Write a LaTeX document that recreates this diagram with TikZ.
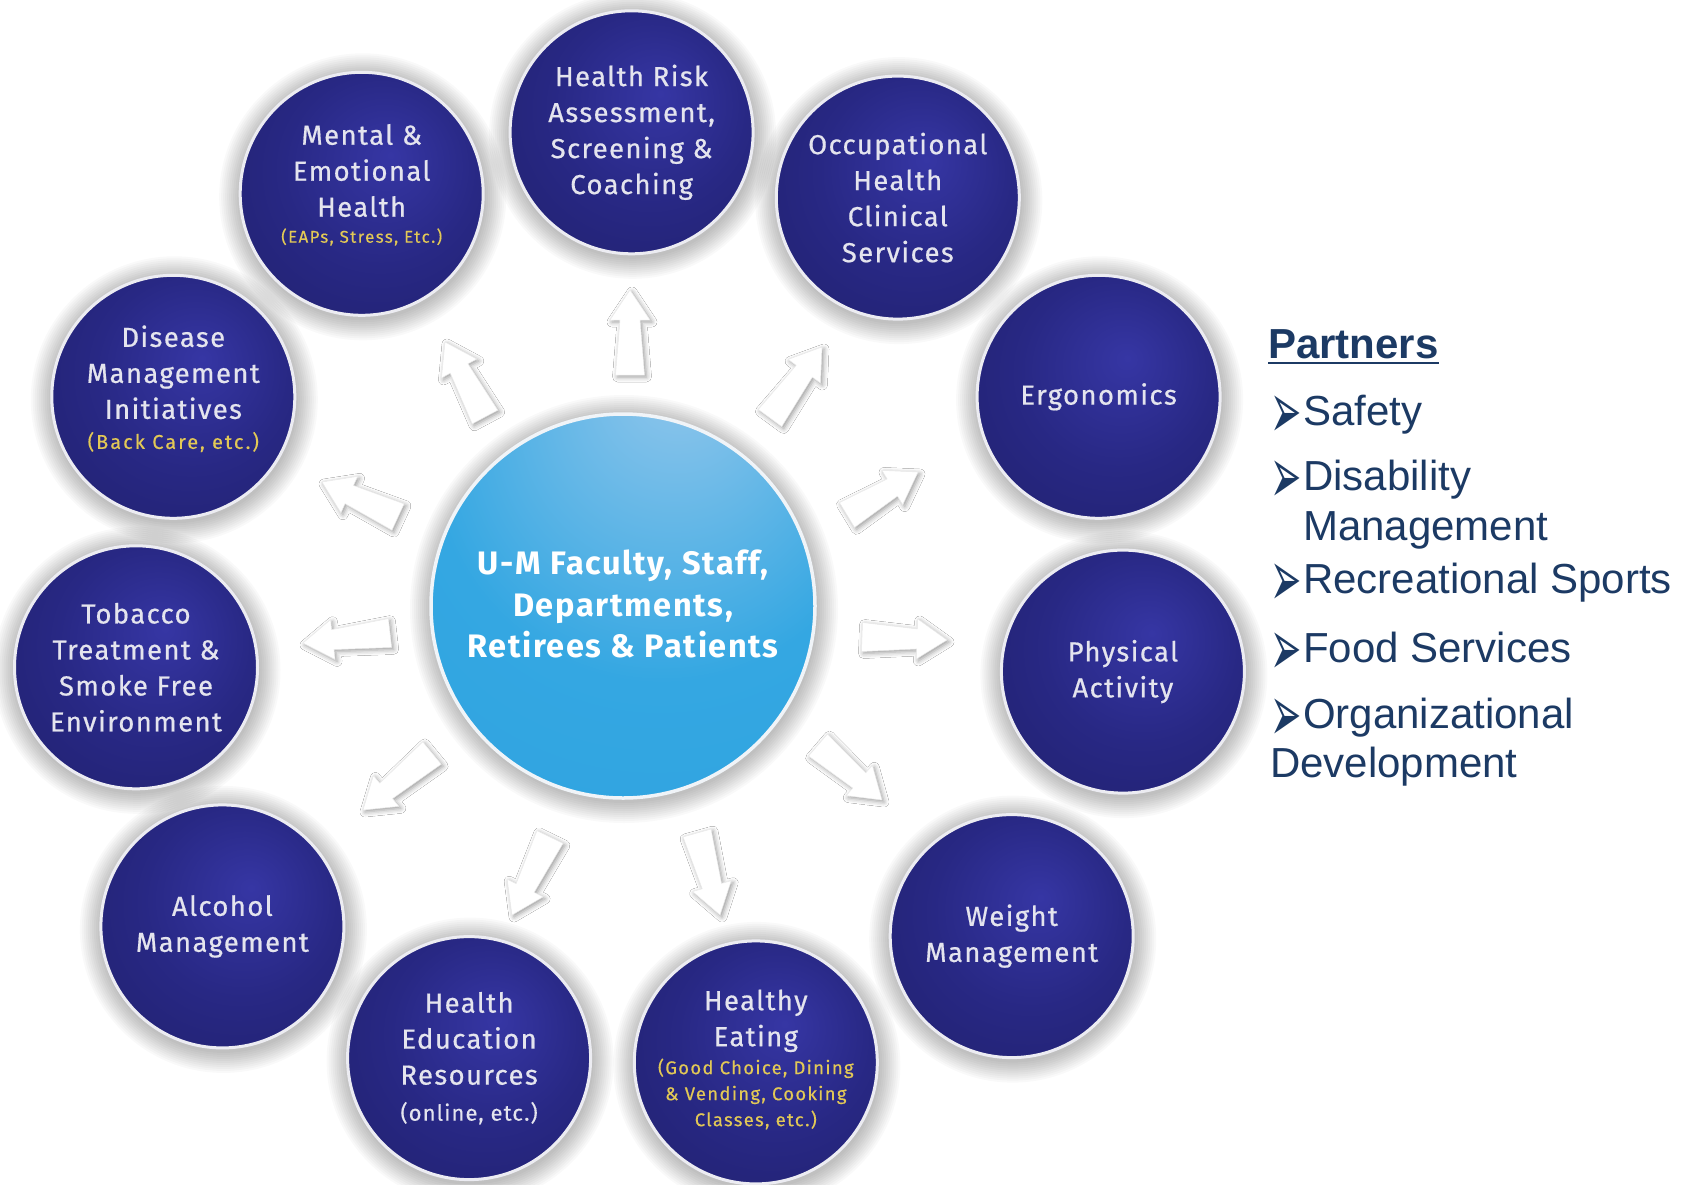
\documentclass[tikz,border=0pt]{standalone}
\usepackage{fontspec}
\setmainfont{Liberation Sans}
\newfontfamily\ballfont[LetterSpace=5,FakeBold=0.6]{Fira Sans}
\newfontfamily\notefont[FakeBold=0.4]{Fira Sans}
\newfontfamily\hubfont[LetterSpace=5]{Fira Sans}
\newfontfamily\glyphfont{DejaVu Sans}
\usetikzlibrary{calc,shadows.blur}

\definecolor{navyhi}{RGB}{54,54,164}
\definecolor{navymid}{RGB}{40,40,132}
\definecolor{navylo}{RGB}{26,26,92}
\definecolor{skyhi}{RGB}{150,200,236}
\definecolor{skymain}{RGB}{52,167,226}
\definecolor{skylo}{RGB}{40,158,220}
\definecolor{balltxt}{RGB}{228,228,238}
\definecolor{subgold}{RGB}{226,200,86}
\definecolor{partnerblue}{RGB}{28,58,100}
\definecolor{arrowedge}{RGB}{234,234,234}

\pgfdeclareradialshading{navyball}{\pgfpoint{6bp}{8bp}}{color(0bp)=(navyhi); color(20bp)=(navymid); color(56bp)=(navylo)}
\pgfdeclareradialshading{skyball}{\pgfpoint{8bp}{32bp}}{color(0bp)=(skyhi); color(30bp)=(skymain); color(80bp)=(skylo)}

\newcommand{\goldnote}[3]{{\color{subgold}\notefont\addfontfeature{LetterSpace=#2}\fontsize{#1}{#1}\selectfont #3}}
\newcommand{\pbullet}{\makebox[33pt][l]{\raisebox{-13pt}{\scalebox{1.1}[2.35]{\glyphfont\fontsize{34}{34}\selectfont ➢}}}}

% white block arrow with a tapered shaft, from tail #1 to tip #2
\newcommand{\blockarrow}[2]{%
  \path[arrowbody]
    ($(#1)!14.5pt!90:(#2)$) --
    ($(#2)!30pt!(#1)!10pt!90:(#2)$) --
    ($(#2)!30pt!(#1)!20pt!90:(#2)$) --
    (#2) --
    ($(#2)!30pt!(#1)!20pt!-90:(#2)$) --
    ($(#2)!30pt!(#1)!10pt!-90:(#2)$) --
    ($(#1)!14.5pt!-90:(#2)$) -- cycle;}

% soft grey glow around a disc of radius #2 centred on #1
\newcommand{\discglow}[2]{%
  \foreach \d in {2,4,...,22}{\fill[black, fill opacity=0.022] ($(#1)+(1,3)$) circle ({#2+\d});}}

\tikzset{
  ball/.style={circle, minimum size=243pt, inner sep=0pt, shade, shading=navyball,
    draw={rgb,255:red,236;green,236;blue,242}, line width=3pt},
  hub/.style={circle, minimum size=384pt, inner sep=0pt, shade, shading=skyball,
    draw={rgb,255:red,240;green,244;blue,248}, line width=3.5pt},
  balltext/.style={text=balltxt, align=center, inner sep=0pt,
    font=\ballfont\fontsize{27.5}{36}\selectfont},
  hubtext/.style={text=white, align=center, inner sep=0pt,
    font=\hubfont\bfseries\fontsize{32.5}{41.5}\selectfont},
  arrowbody/.style={fill=white, draw=arrowedge, line width=0.5pt, line join=round,
    blur shadow={shadow xshift=2pt, shadow yshift=-2pt, shadow blur radius=5pt, shadow opacity=40}},
  partner/.style={anchor=base west, inner sep=0pt, text=partnerblue,
    font=\fontsize{42}{42}\selectfont},
}

\begin{document}
\begin{tikzpicture}[x=1pt,y=-1pt]
\fill[white] (0,0) rectangle (1693,1184);
\useasboundingbox (0,0) rectangle (1693,1184);

% central group and program circles
\coordinate (c0) at (623,606);
\coordinate (c1) at (631.6,132.3);
\coordinate (c2) at (897.8,197.6);
\coordinate (c3) at (1098.6,396.8);
\coordinate (c4) at (1122.9,671.6);
\coordinate (c5) at (1011.7,936.1);
\coordinate (c6) at (755.8,1062.4);
\coordinate (c7) at (469.1,1058.1);
\coordinate (c8) at (222.4,926.4);
\coordinate (c9) at (136.0,667.3);
\coordinate (c10) at (173.3,396.8);
\coordinate (c11) at (361.7,193.8);

% grey glow around every disc
\discglow{c0}{192}
\foreach \k in {1,...,11}{\discglow{c\k}{121.5}}

\node[hub] (hub) at (c0) {};
\node[ball] (hr)  at (c1) {};
\node[ball] (occ) at (c2) {};
\node[ball] (erg) at (c3) {};
\node[ball] (phy) at (c4) {};
\node[ball] (wgt) at (c5) {};
\node[ball] (eat) at (c6) {};
\node[ball] (edu) at (c7) {};
\node[ball] (alc) at (c8) {};
\node[ball] (tob) at (c9) {};
\node[ball] (dis) at (c10) {};
\node[ball] (men) at (c11) {};

% arrow end points
\coordinate (a1t) at (630,375);  \coordinate (a1h) at (630,290);
\coordinate (a2t) at (485,417);  \coordinate (a2h) at (445,342);
\coordinate (a3t) at (770,418);  \coordinate (a3h) at (822,347);
\coordinate (a4t) at (847,515);  \coordinate (a4h) at (918,472);
\coordinate (a5t) at (862,637);  \coordinate (a5h) at (947,640);
\coordinate (a6t) at (818,745);  \coordinate (a6h) at (882,800);
\coordinate (a7t) at (697,833);  \coordinate (a7h) at (720,915);
\coordinate (a8t) at (550,837);  \coordinate (a8h) at (512,915);
\coordinate (a9t) at (432,753);  \coordinate (a9h) at (363,810);
\coordinate (a10t) at (390,633); \coordinate (a10h) at (303,643);
\coordinate (a11t) at (398,517); \coordinate (a11h) at (322,482);

\blockarrow{a1t}{a1h}
\blockarrow{a2t}{a2h}
\blockarrow{a3t}{a3h}
\blockarrow{a4t}{a4h}
\blockarrow{a5t}{a5h}
\blockarrow{a6t}{a6h}
\blockarrow{a7t}{a7h}
\blockarrow{a8t}{a8h}
\blockarrow{a9t}{a9h}
\blockarrow{a10t}{a10h}
\blockarrow{a11t}{a11h}

% labels
\node[hubtext] (hubT) at ($(hub.center)+(0,-2)$) {U-M Faculty, Staff,\\Departments,\\Retirees \& Patients};
\node[balltext] (hrT)  at (hr.center)  {Health Risk\\Assessment,\\Screening \&\\Coaching};
\node[balltext] (occT) at (occ.center) {Occupational\\Health\\Clinical\\Services};
\node[balltext] (ergT) at (erg.center) {Ergonomics};
\node[balltext] (phyT) at (phy.center) {Physical\\Activity};
\node[balltext] (wgtT) at (wgt.center) {Weight\\Management};
\node[balltext] (eatT) at ($(eat.center)+(0,-3)$) {Healthy\\Eating\\[-8pt]
  \goldnote{18.5}{7}{(Good Choice, Dining}\\[-10pt]
  \goldnote{18.5}{7}{\& Vending, Cooking}\\[-10pt]
  \goldnote{18.5}{7}{Classes, etc.)}};
\node[balltext] (eduT) at (edu.center) {Health\\Education\\Resources\\{\notefont\addfontfeature{LetterSpace=5}\fontsize{22}{22}\selectfont (online, etc.)}};
\node[balltext] (alcT) at (alc.center) {Alcohol\\Management};
\node[balltext] (tobT) at (tob.center) {Tobacco\\Treatment \&\\Smoke Free\\Environment};
\node[balltext] (disT) at ($(dis.center)+(0,-8)$) {Disease\\Management\\Initiatives\\[-6pt]\goldnote{20}{10}{(Back Care, etc.)}};
\node[balltext] (menT) at ($(men.center)+(0,-9)$) {Mental \&\\Emotional\\Health\\[-10pt]\goldnote{17}{8}{(EAPs, Stress, Etc.)}};

% partners list
\node[partner] (ph) at (1268,358) {\bfseries Partners};
\draw[partnerblue, line width=2.6pt] ($(ph.base west)+(0,5)$) -- ($(ph.base east)+(0,5)$);
\node[partner] (p1) at (1270,425) {\pbullet Safety};
\node[partner] (p2) at (1270,490) {\pbullet Disability};
\node[partner] (p2b) at (1303,540) {Management};
\node[partner] (p3) at (1270,593) {\pbullet Recreational Sports};
\node[partner] (p4) at (1270,662) {\pbullet Food Services};
\node[partner] (p5) at (1270,728) {\pbullet Organizational};
\node[partner] (p5b) at (1270,777) {Development};
\end{tikzpicture}
\end{document}
